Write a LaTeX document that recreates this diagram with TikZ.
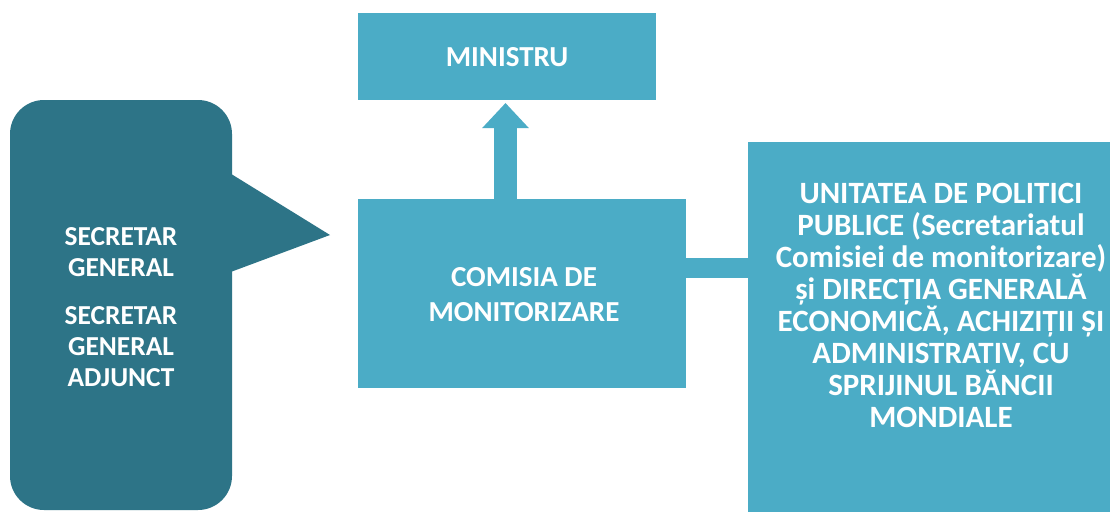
\documentclass[tikz,border=0pt]{standalone}
\usepackage{fontspec}
\setmainfont{Carlito}
\usetikzlibrary{arrows.meta}
\definecolor{lightteal}{HTML}{4BACC6}
\definecolor{darkteal}{HTML}{2D7487}
\begin{document}
\begin{tikzpicture}[x=1pt,y=-1pt,
  box/.style={fill=lightteal, draw=none, inner sep=0pt, outer sep=0pt},
  darkbox/.style={fill=darkteal, draw=none, inner sep=0pt, outer sep=0pt, rounded corners=34pt},
  lbl/.style={text=white, align=center, inner sep=0pt},
  link/.style={draw=lightteal, line width=20pt},
  uparrow/.style={draw=lightteal, line width=23pt, -{Triangle[width=45pt,length=25pt]}}]
\useasboundingbox (0,0) rectangle (1110,512);
\fill[white] (0,0) rectangle (1110,512);
% boxes
\node[box, minimum width=298pt, minimum height=87pt] (ministru) at (507,56.5) {};
\node[box, minimum width=328pt, minimum height=189pt] (comisia) at (522,293.5) {};
\node[box, minimum width=362pt, minimum height=370pt] (unitate) at (929,327) {};
\node[darkbox, minimum width=222pt, minimum height=410pt] (secretar) at (121,305) {};
\fill[darkteal] (228,172) -- (330,235) -- (228,273) -- cycle;
% texts
\node[lbl, font=\bfseries\fontsize{29}{35}\selectfont] (ministrut) at (507,57) {MINISTRU};
\node[lbl, font=\bfseries\fontsize{29}{35}\selectfont] (comisiat) at (524,295) {COMISIA DE\\MONITORIZARE};
\node[lbl, font=\bfseries\fontsize{27.4}{31}\selectfont] (secretart) at (121,307) {SECRETAR\\GENERAL\\[17pt]SECRETAR\\GENERAL\\ADJUNCT};
\node[lbl, font=\bfseries\fontsize{31}{32}\selectfont] (unitatet) at (941,305) {UNITATEA DE POLITICI\\PUBLICE (Secretariatul\\Comisiei de monitorizare)\\și DIRECȚIA GENERALĂ\\ECONOMICĂ, ACHIZIȚII ȘI\\ADMINISTRATIV, CU\\SPRIJINUL BĂNCII\\MONDIALE};
% connectors
\coordinate (ax) at (505.5,0);
\coordinate (tipy) at (0,103);
\coordinate (hy) at (0,268);
\draw[uparrow] (comisia.north -| ax) -- (tipy -| ax);
\draw[link] (comisia.east |- hy) -- (unitate.west |- hy);
\end{tikzpicture}
\end{document}
